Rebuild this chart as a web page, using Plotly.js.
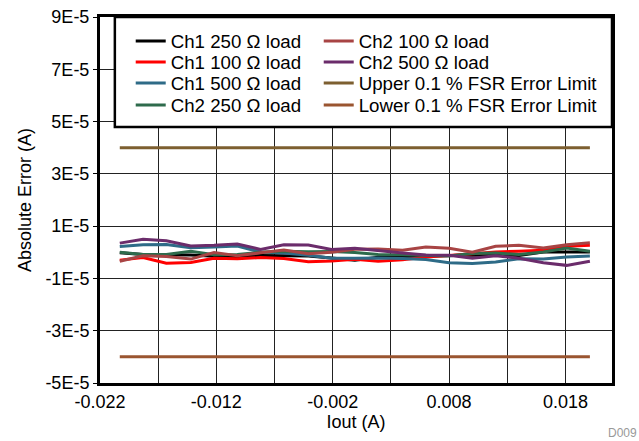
<!DOCTYPE html>
<html>
<head>
<meta charset="utf-8">
<script src="https://cdn.plot.ly/plotly-3.0.1.min.js"></script>
<style>html,body{margin:0;padding:0;background:#fff;}#chart{width:639px;height:441px;}</style>
</head>
<body>
<div id="chart"></div>
<script>
// Output current (A)
const iout = [-0.0203, -0.0183, -0.0163, -0.0142, -0.0122, -0.0102, -0.0082, -0.0062, -0.0041, -0.0021,
  -0.0001, 0.0019, 0.0040, 0.0060, 0.0080, 0.0100, 0.0120, 0.0140, 0.0161, 0.0181, 0.0201];
// Absolute error (A)
const ch1_250 = [-0.2e-6, -0.8e-6, -0.9e-6, -1.0e-6, -1.5e-6, -1.6e-6, -1.2e-6, -1.2e-6, -1.4e-6, -2.2e-6,
  -3.0e-6, -1.9e-6, -1.7e-6, -1.4e-6, -1.3e-6, -1.0e-6, -1.1e-6, -1.2e-6, 0.1e-6, 0.1e-6, 0.1e-6];
const ch1_100 = [-3.0e-6, -2.0e-6, -4.2e-6, -3.9e-6, -2.3e-6, -2.5e-6, -2.0e-6, -2.4e-6, -3.6e-6, -3.3e-6,
  -2.7e-6, -3.4e-6, -2.9e-6, -1.8e-6, -1.2e-6, -0.5e-6, 0.1e-6, 0.4e-6, 0.8e-6, 2.3e-6, 2.7e-6];
const ch1_500 = [2.2e-6, 2.9e-6, 3.0e-6, 1.7e-6, 2.0e-6, 2.4e-6, 0.1e-6, -0.3e-6, -1.1e-6, -2.3e-6,
  -2.3e-6, -2.2e-6, -2.4e-6, -2.8e-6, -4.0e-6, -4.3e-6, -3.7e-6, -2.5e-6, -2.6e-6, -1.8e-6, -1.4e-6];
const ch2_250 = [0.0e-6, -0.8e-6, -0.8e-6, 0.4e-6, -0.9e-6, -0.8e-6, 0.0e-6, 0.4e-6, 0.2e-6, 0.3e-6,
  -0.1e-6, -0.8e-6, -0.9e-6, -1.1e-6, -1.4e-6, -0.5e-6, -0.3e-6, -0.8e-6, 0.1e-6, 1.6e-6, 0.4e-6];
const ch2_100 = [-3.4e-6, -1.3e-6, -1.6e-6, -2.6e-6, -0.1e-6, -1.3e-6, -0.2e-6, 0.9e-6, -0.6e-6, 0.0e-6,
  1.2e-6, 1.3e-6, 0.8e-6, 2.0e-6, 1.5e-6, 0.0e-6, 2.3e-6, 2.7e-6, 1.6e-6, 2.9e-6, 3.6e-6];
const ch2_500 = [3.5e-6, 5.0e-6, 4.4e-6, 2.4e-6, 2.7e-6, 3.2e-6, 1.1e-6, 2.9e-6, 2.8e-6, 1.1e-6,
  1.5e-6, 0.5e-6, -0.3e-6, -1.0e-6, -1.1e-6, -2.3e-6, -1.3e-6, -2.3e-6, -4.0e-6, -5.0e-6, -3.4e-6];
const limitX = [-0.0203, 0.0201];
const upperLimit = [4e-5, 4e-5];
const lowerLimit = [-4e-5, -4e-5];

const seriesNames = ["Ch1 250 \u03A9 load", "Ch1 100 \u03A9 load", "Ch1 500 \u03A9 load", "Ch2 250 \u03A9 load",
  "Ch2 100 \u03A9 load", "Ch2 500 \u03A9 load", "Upper 0.1 % FSR Error Limit", "Lower 0.1 % FSR Error Limit"];

const xTickVals = [-0.022, -0.017, -0.012, -0.007, -0.002, 0.003, 0.008, 0.013, 0.018];
const xTickText = ["-0.022", "", "-0.012", "", "-0.002", "", "0.008", "", "0.018"];
const yTickVals = [-5e-5, -3e-5, -1e-5, 1e-5, 3e-5, 5e-5, 7e-5, 9e-5];
const yTickText = ["-5E-5", "-3E-5", "-1E-5", "1E-5", "3E-5", "5E-5", "7E-5", "9E-5"];

const colors = ["#000000", "#ff0000", "#2e6b87", "#2e6b4c", "#a84444", "#6b2c6b", "#7d5f30", "#9a5530"];
const ys = [ch1_250, ch1_100, ch1_500, ch2_250, ch2_100, ch2_500, upperLimit, lowerLimit];
const legendIds = ["legend", "legend2", "legend3", "legend4", "legend5", "legend6", "legend7", "legend8"];

const traces = ys.map((y, i) => ({
  type: "scatter", mode: "lines",
  x: i < 6 ? iout : limitX, y: y,
  name: seriesNames[i], legend: legendIds[i],
  line: {color: colors[i], width: 3}
}));

const font = "Liberation Sans, Arial, sans-serif";
const rowY = [0.9853, 0.9279, 0.8705, 0.8104];
const colX = [0.06, 0.4272];
function legendAt(xPos, yPos) {
  return {
    font: {family: font, size: 18.7, color: "#000"},
    bgcolor: "rgba(0,0,0,0)", borderwidth: 0,
    x: xPos, xanchor: "left", y: yPos, yanchor: "top"
  };
}

const layout = {
  width: 639, height: 441,
  margin: {l: 100, r: 27, t: 17, b: 58},
  paper_bgcolor: "#fff", plot_bgcolor: "#fff",
  font: {family: font, size: 18, color: "#000"},
  showlegend: true,
  xaxis: {
    range: [-0.022, 0.022], tickmode: "array", tickvals: xTickVals, ticktext: xTickText,
    showgrid: true, gridcolor: "#222", gridwidth: 1, zeroline: false,
    showline: true, linecolor: "#000", linewidth: 3, mirror: true,
    ticks: "", tickfont: {family: font, size: 18},
    title: {text: "Iout (A)", font: {family: font, size: 18}, standoff: 0}
  },
  yaxis: {
    range: [-5e-5, 9e-5], tickmode: "array", tickvals: yTickVals, ticktext: yTickText,
    showgrid: true, gridcolor: "#222", gridwidth: 1, zeroline: false,
    showline: true, linecolor: "#000", linewidth: 3, mirror: true,
    ticks: "outside", ticklen: 4, tickcolor: "#000", tickfont: {family: font, size: 18},
    title: {text: "Absolute Error (A)", font: {family: font, size: 18}, standoff: 10}
  },
  shapes: [{
    type: "rect", xref: "paper", yref: "paper", x0: 0.029, x1: 1, y0: 0.6995, y1: 1,
    fillcolor: "#fff", line: {color: "#000", width: 2.5}, layer: "above"
  }],
  annotations: [{
    xref: "paper", yref: "paper", x: 1.0527, y: -0.137, xanchor: "right", yanchor: "middle",
    text: "D009", showarrow: false, font: {family: font, size: 12, color: "#999"}
  }]
};
legendIds.forEach((id, i) => {
  layout[id] = legendAt(colX[Math.floor(i / 4)], rowY[i % 4]);
});

Plotly.newPlot("chart", traces, layout, {displayModeBar: false, staticPlot: true});
</script>
</body>
</html>
